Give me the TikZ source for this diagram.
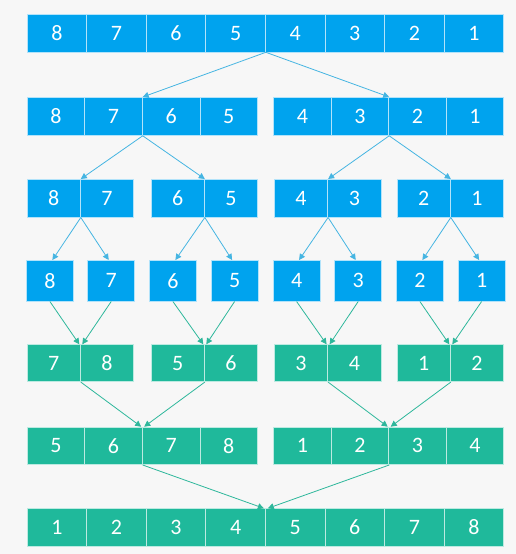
\documentclass[tikz,border=0pt]{standalone}
\usepackage{fontspec}
\setmainfont{Carlito}
\usetikzlibrary{arrows.meta,calc}
\definecolor{bg}{HTML}{F7F7F7}
\definecolor{cblue}{HTML}{00A3EE}
\definecolor{cgreen}{HTML}{1FB99B}
\definecolor{ablue}{HTML}{45B5E2}
\definecolor{agreen}{HTML}{2DB79B}
\begin{document}
\begin{tikzpicture}[x=1pt,y=-1pt,
  bcell/.style={fill=cblue, draw=white!70!cblue, line width=0.8pt, text=white, inner sep=0pt, anchor=north west, font=\fontsize{22}{22}\selectfont},
  gcell/.style={bcell, fill=cgreen, draw=white!70!cgreen},
  barrow/.style={draw=ablue, line width=0.8pt, -{Triangle[length=6pt,width=6pt]}},
  garrow/.style={barrow, draw=agreen}]
\fill[bg] (0,0) rectangle (516,554);
\useasboundingbox (0,0) rectangle (516,554);
% row 1
\foreach \v [count=\i] in {8,7,6,5,4,3,2,1}
  \node[bcell, minimum width=59.6pt, minimum height=37.5pt] (a\i) at ({26.7+(\i-1)*59.58},14) {\v};
% row 2
\foreach \v/\x [count=\i] in {8/26.7,7/84.3,6/141.9,5/199.5,4/273.3,3/330.8,2/388.3,1/445.8}
  \node[bcell, minimum width=57.6pt, minimum height=38pt] (b\i) at (\x,97) {\v};
% row 3
\foreach \v/\x [count=\i] in {8/26.7,7/80,6/150.7,5/204,4/274,3/327.3,2/396.7,1/450}
  \node[bcell, minimum width=53.3pt, minimum height=37.7pt] (c\i) at (\x,179) {\v};
% row 4
\foreach \v/\x [count=\i] in {8/26,7/87.3,6/149,5/210.7,4/272.7,3/334.3,2/396,1/457.7}
  \node[bcell, minimum width=47pt, minimum height=40.7pt] (d\i) at (\x,260) {\v};
% row 5
\foreach \v/\x [count=\i] in {7/26.7,8/80,5/150.7,6/204,3/274,4/327.3,1/396.7,2/450}
  \node[gcell, minimum width=53.3pt, minimum height=37pt] (e\i) at (\x,344.3) {\v};
% row 6
\foreach \v/\x [count=\i] in {5/26.7,6/84.3,7/141.9,8/199.5,1/273.3,2/330.8,3/388.3,4/445.8}
  \node[gcell, minimum width=57.6pt, minimum height=37.5pt] (f\i) at (\x,426.7) {\v};
% row 7
\foreach \v [count=\i] in {1,2,3,4,5,6,7,8}
  \node[gcell, minimum width=59.6pt, minimum height=37.7pt] (g\i) at ({26.7+(\i-1)*59.58},508.3) {\v};
% arrows split
\draw[barrow] (a4.south east) -- (b2.north east);
\draw[barrow] (a4.south east) -- (b6.north east);
\draw[barrow] (b2.south east) -- (c1.north east);
\draw[barrow] (b2.south east) -- (c3.north east);
\draw[barrow] (b6.south east) -- (c5.north east);
\draw[barrow] (b6.south east) -- (c7.north east);
\foreach \p/\l/\r in {1/1/2,3/3/4,5/5/6,7/7/8}{
  \draw[barrow] (c\p.south east) -- ($(d\l.north)+(2.5,0)$);
  \draw[barrow] (c\p.south east) -- ($(d\r.north)+(-2.5,0)$);
}
% arrows merge
\foreach \p/\l/\r in {1/1/2,3/3/4,5/5/6,7/7/8}{
  \draw[garrow] (d\l.south) -- ($(e\p.north east)+(-1.5,0)$);
  \draw[garrow] (d\r.south) -- ($(e\p.north east)+(1.5,0)$);
}
\draw[garrow] (e1.south east) -- ($(f2.north east)+(-1.5,0)$);
\draw[garrow] (e3.south east) -- ($(f2.north east)+(1.5,0)$);
\draw[garrow] (e5.south east) -- ($(f6.north east)+(-1.5,0)$);
\draw[garrow] (e7.south east) -- ($(f6.north east)+(1.5,0)$);
\draw[garrow] (f2.south east) -- ($(g4.north east)+(-2,0)$);
\draw[garrow] (f6.south east) -- ($(g4.north east)+(2,0)$);
\end{tikzpicture}
\end{document}
